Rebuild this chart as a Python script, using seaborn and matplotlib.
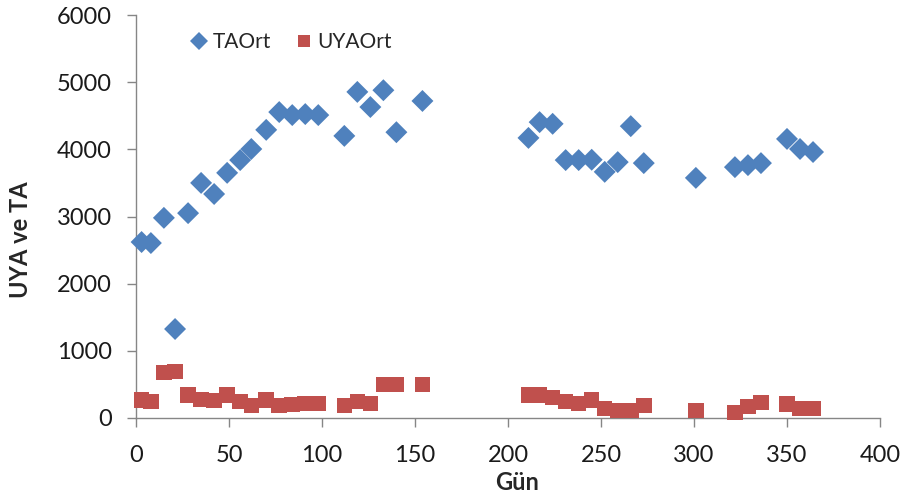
import matplotlib
matplotlib.use("Agg")
import matplotlib.pyplot as plt
import seaborn as sns
import pandas as pd

days = [3, 8, 15, 21, 28, 35, 42, 49, 56, 62, 70, 77, 84, 91, 98, 112, 119, 126, 133, 140, 154,
        211, 217, 224, 231, 238, 245, 252, 259, 266, 273, 301, 322, 329, 336, 350, 357, 364]
ta_ort = [2620, 2605, 2980, 1325, 3050, 3500, 3335, 3650, 3840, 4005, 4290, 4555, 4510, 4525, 4510,
          4200, 4855, 4630, 4880, 4255, 4720,
          4170, 4405, 4380, 3840, 3840, 3845, 3665, 3810, 4345, 3795, 3575, 3735, 3765, 3795,
          4155, 4005, 3960]
uya_ort = [268, 243, 680, 690, 342, 278, 258, 342, 243, 184, 268, 184, 203, 218, 218,
           184, 243, 218, 501, 501, 501,
           342, 342, 308, 243, 218, 268, 144, 109, 109, 184, 109, 85, 168, 228, 208, 144, 144]
series_names = ["TAOrt", "UYAOrt"]
x_ticks = [0, 50, 100, 150, 200, 250, 300, 350, 400]
y_ticks = [0, 1000, 2000, 3000, 4000, 5000, 6000]

df = pd.DataFrame({
    "Gün": days * 2,
    "val": ta_ort + uya_ort,
    "series": [series_names[0]] * len(days) + [series_names[1]] * len(days),
})

sns.set_style("white")
plt.rcParams['font.family'] = ['Lato', 'DejaVu Sans']

fig = plt.figure(figsize=(9.03, 4.99), dpi=100)
ax = fig.add_axes([136/903, 1 - 418/499, (880-136)/903, (418-15)/499])

palette = {"TAOrt": "#4F81BD", "UYAOrt": "#C0504D"}
markers = {"TAOrt": "D", "UYAOrt": "s"}
sns.scatterplot(data=df, x="Gün", y="val", hue="series", style="series",
                palette=palette, markers=markers, s=125, linewidth=0, ax=ax,
                clip_on=False, zorder=3)

ax.set_xlim(0, 400)
ax.set_ylim(0, 6000)
ax.set_xticks(x_ticks)
ax.set_yticks(y_ticks)
ax.tick_params(axis="both", which="both", direction="out", length=6.5, width=1,
               color="#868686", labelsize=17, labelcolor="#1a1a1a", left=True, bottom=True)
ax.tick_params(axis="x", pad=13)
ax.tick_params(axis="y", pad=11)
for side in ["top", "right"]:
    ax.spines[side].set_visible(False)
for side in ["left", "bottom"]:
    ax.spines[side].set_color("#868686")
    ax.spines[side].set_linewidth(1)

ax.set_xlabel("Gün", fontsize=17, fontweight="bold", va="center")
ax.xaxis.set_label_coords((517-136)/744, (418-483)/403)
ax.set_ylabel("UYA ve TA", fontsize=17, fontweight="bold", va="center")
ax.yaxis.set_label_coords((20-136)/744, (418-240)/403)

leg = ax.legend(loc="center left", bbox_to_anchor=((178-136)/744, (418-42)/403), ncol=2,
                frameon=False, fontsize=15, handletextpad=0.05, columnspacing=1.0,
                markerscale=0.8, borderaxespad=0, handlelength=1.2)

fig.savefig("out.png", dpi=100)
